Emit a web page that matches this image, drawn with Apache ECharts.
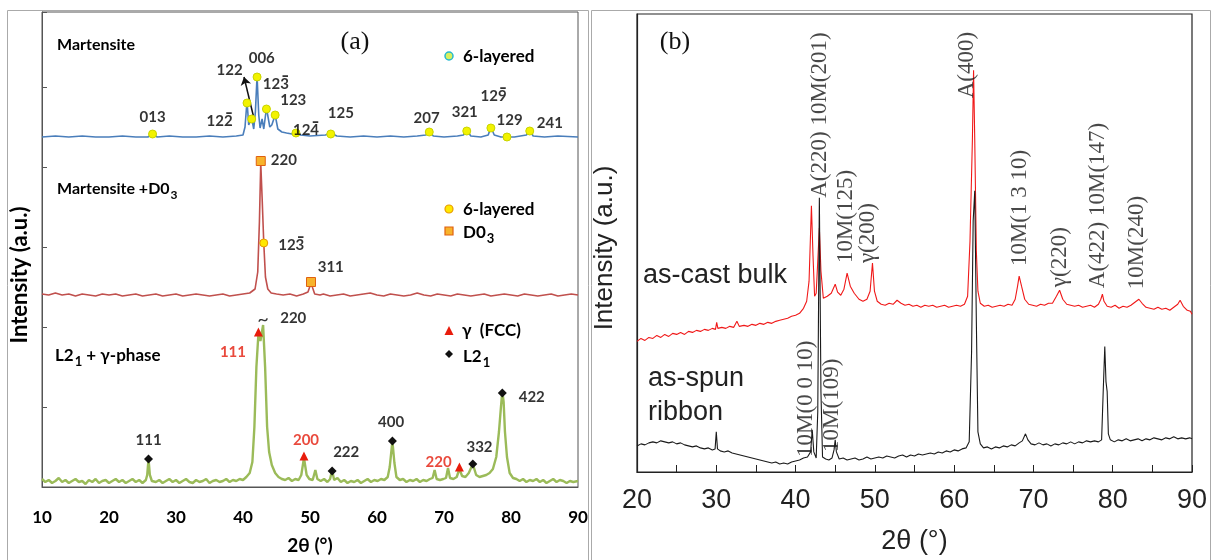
<!DOCTYPE html>
<html>
<head>
<meta charset="utf-8">
<script src="https://cdn.jsdelivr.net/npm/echarts@6/dist/echarts.min.js"></script>
<style>
  html, body { margin: 0; padding: 0; background: #fff; }
  #chart { width: 1217px; height: 560px; }
</style>
</head>
<body>
<div id="chart"></div>
<script>
// ---- panel (a): 2θ / intensity pairs (a.u., stacked offsets) ----
const martensite = [
  [10,350],[12,351],[14,350],[16,351],[18,350],[20,350],[22,351],[24,350],[25.8,350],[26.5,353],[27.2,350],
  [29,351],[31,350],[33,350],[35,351],[37,350],[39,351],[40.0,352],[40.3,360],[40.6,386],[40.85,362],
  [41.3,369],[41.6,358],[41.85,375],[42.1,411],[42.35,372],[42.55,359],[42.85,368],[43.1,358],[43.5,379],
  [44.0,360],[44.3,362],[44.8,372],[45.2,358],[45.8,355],[46.5,354],[47.3,353],[47.9,355],[48.6,352],
  [50,351],[52.3,352],[53.1,354],[54,351],[56,350],[58,351],[60,350],[62,351],[64,350],[66,351],
  [67.3,352],[67.8,356],[68.4,351],[70,350],[72,351],[72.9,352],[73.4,357],[74,351],[75.5,350],
  [76.6,352],[77.0,360],[77.5,352],[78.5,350],[79.4,350],[80.5,350],[82.3,352],[82.8,357],[83.3,351],
  [85,350],[87,351],[90,350]
];
const martensiteD03 = [
  [10,193],[11,192],[12,194],[13,192],[14,193],[15,191],[16,193],[17,192],[18,191],[19,193],[20,192],
  [21,193],[22,191],[23,192],[24,193],[25,191],[26,192],[27,193],[28,191],[29,192],[30,193],[31,191],
  [32,192],[33,193],[34,192],[35,191],[36,192],[37,193],[38,191],[39,192],[40,193],[41,194],[41.8,198],
  [42.2,215],[42.45,265],[42.65,324],[42.85,290],[43.1,244],[43.35,210],[43.7,198],[44.2,194],[45,193],
  [46,192],[47,193],[48,191],[49,193],[49.7,195],[49.95,200],[50.15,205],[50.4,199],[50.7,193],
  [51.5,192],[52,193],[53,191],[54,192],[55,193],[56,191],[57,192],[58,193],[59,194],[60,192],[61,191],
  [62,193],[63,192],[64,191],[65,192],[66,194],[67,192],[68,191],[69,193],[70,192],[71,191],[72,193],
  [73,192],[74,191],[75,192],[76,193],[77,191],[78,192],[79,193],[80,192],[81,191],[82,193],[83,192],
  [84,191],[85,192],[86,193],[87,191],[88,192],[89,193],[90,192]
];
const l21Gamma = [
  [10,8],[10.5,5],[11,7],[11.5,4],[12,6],[12.5,9],[13,5],[13.5,7],[14,4],[14.5,6],[15,8],[15.5,5],[16,6],
  [16.5,3],[17,7],[17.5,5],[18,8],[18.5,4],[19,6],[19.5,7],[20,4],[20.5,6],[21,8],[21.5,5],[22,7],[22.5,4],
  [23,6],[23.5,8],[24,5],[24.5,7],[25,4],[25.5,7],[25.7,12],[25.9,28],[26.1,12],[26.4,6],[27,5],[27.5,7],
  [28,4],[28.5,6],[29,8],[29.5,5],[30,7],[30.5,4],[31,6],[31.5,8],[32,5],[32.5,4],[33,7],[33.5,5],[34,6],
  [34.5,8],[35,4],[35.5,6],[36,7],[36.5,5],[37,6],[37.5,8],[38,5],[38.5,7],[39,6],[39.5,8],[40,7],[40.5,10],
  [41,14],[41.4,25],[41.7,60],[42.0,120],[42.3,153],[42.6,146],[43.0,162],[43.3,120],[43.6,60],[43.9,35],
  [44.3,22],[44.8,14],[45.3,10],[45.8,8],[46.3,7],[46.8,9],[47.3,6],[47.8,8],[48.3,7],[48.7,12],[49.1,29],
  [49.5,12],[49.9,8],[50.4,7],[50.8,17],[51.1,8],[51.6,6],[52.1,8],[52.6,5],[53.0,8],[53.3,17],[53.6,7],
  [54.1,9],[54.6,5],[55.1,7],[55.6,4],[56.1,6],[56.6,5],[57.1,7],[57.6,4],[58.1,6],[58.6,8],[59.1,5],
  [59.6,7],[60.1,6],[60.6,8],[61.1,7],[61.6,10],[61.9,20],[62.3,46],[62.6,24],[62.9,10],[63.4,7],[63.9,8],
  [64.4,5],[64.9,7],[65.4,6],[65.9,8],[66.4,5],[66.9,7],[67.4,6],[67.9,8],[68.3,9],[68.6,17],[68.9,8],
  [69.4,7],[69.9,8],[70.3,9],[70.6,19],[70.9,9],[71.4,8],[71.9,10],[72.3,18],[72.7,11],[73.2,10],[73.7,14],
  [74.3,23],[74.8,12],[75.3,10],[75.8,11],[76.3,12],[76.8,14],[77.3,18],[77.8,30],[78.2,55],[78.5,80],
  [78.7,96],[78.9,85],[79.1,55],[79.4,30],[79.8,14],[80.3,9],[80.8,8],[81.3,6],[81.8,8],[82.3,5],[82.8,7],
  [83.3,6],[83.8,8],[84.3,5],[84.8,7],[85.3,4],[85.8,6],[86.3,8],[86.8,5],[87.3,7],[87.8,6],[88.3,4],
  [88.8,6],[89.3,5],[90,6]
];
// peak markers (a)
const sixLayeredTop = [[26.5,353],[40.6,384],[41.3,368],[42.1,410],[43.5,378],[44.8,372],[47.9,354],
  [53.1,353],[67.8,355],[73.4,356],[77.0,359],[79.4,350],[82.8,356]];
const sixLayeredMid = [[43.1,244]];
const d03Peaks = [[42.65,326],[50.15,205]];
const gammaPeaks = [[42.3,155],[49.1,31],[72.3,20]];
const l21Peaks = [[25.9,28],[53.3,16],[62.3,46],[74.3,23],[78.7,94]];
// peak labels (a): [2θ, intensity, text]
const labelsA = [
  [26.5,370,'013'],[38.0,417,'122'],[42.8,429,'006'],
  [47.5,387,'123'],[54.6,374,'125'],[67.4,369,'207'],[73.1,375,'321'],
  [79.8,367,'129'],[85.8,364,'241'],
  [46.1,327,'220'],[53.1,220,'311'],
  [47.5,169,'220'],[25.9,47,'111'],[55.4,35,'222'],[62.1,65,'400'],[75.3,40,'332'],[83.1,90,'422']
];
// labels whose last digit carries a bar
const labelsABar = [
  [36.5,367,'122'],[44.9,404,'123'],[49.4,358,'124'],[77.4,392,'129'],[47.2,243,'123']
];
const labelsARed = [[38.5,135,'111'],[49.4,47,'200'],[69.2,25,'220']];
const breakMark = [[43.0,167,'~']];

// ---- panel (b) ----
const asCastBulk = [
  [20,130],[20.5,133],[21,131],[21.5,134],[22,133],[22.5,136],[23,134],[23.5,137],[24,135],[24.5,138],
  [25,137],[25.5,139],[26,137],[26.5,140],[27,139],[27.5,141],[28,140],[28.5,142],[29,141],[29.5,143],
  [29.9,142],[30.05,149],[30.2,143],[30.7,144],[31.2,143],[31.7,145],[32.2,144],[32.6,150],[32.9,145],
  [33.5,146],[34,145],[34.5,147],[35,146],[35.5,148],[36,147],[36.5,149],[37,148],[37.5,150],[38,151],
  [38.5,152],[39,153],[39.5,155],[40,156],[40.5,158],[41,163],[41.4,170],[41.7,190],[42.0,265],[42.2,215],
  [42.4,175],[42.6,178],[42.8,210],[43.0,243],[43.2,200],[43.5,173],[44,175],[44.5,178],[45.0,187],
  [45.3,179],[45.7,176],[46.1,182],[46.5,198],[46.9,185],[47.4,178],[48,172],[48.5,170],[49,172],
  [49.4,180],[49.7,208],[49.95,180],[50.3,170],[50.8,167],[51.3,166],[51.8,168],[52.3,167],[52.8,171],
  [53.3,168],[53.8,166],[54.3,167],[54.8,165],[55.3,166],[55.8,164],[56.3,166],[56.8,165],[57.3,166],
  [57.8,164],[58.3,165],[58.8,166],[59.3,164],[59.8,165],[60.3,166],[60.8,165],[61.3,167],[61.7,175],
  [62.0,230],[62.3,330],[62.45,400],[62.6,330],[62.8,220],[63.0,180],[63.3,168],[63.8,165],[64.3,166],
  [64.8,164],[65.3,165],[65.8,166],[66.3,165],[66.8,167],[67.3,166],[67.7,172],[68.0,185],[68.2,195],
  [68.5,185],[68.9,172],[69.4,167],[69.9,166],[70.4,165],[70.9,167],[71.4,166],[71.9,168],[72.4,168],
  [72.9,175],[73.3,181],[73.7,172],[74.2,167],[74.7,166],[75.2,165],[75.7,166],[76.2,164],[76.7,165],
  [77.2,166],[77.7,164],[78.2,167],[78.5,172],[78.7,177],[78.9,170],[79.3,165],[79.8,164],[80.3,166],
  [80.8,163],[81.3,165],[81.8,164],[82.3,166],[82.8,169],[83.3,172],[83.7,168],[84.2,164],[84.7,163],
  [85.2,162],[85.7,164],[86.2,162],[86.7,163],[87.2,161],[87.7,164],[88.2,167],[88.5,171],[88.9,165],
  [89.4,161],[89.8,160],[90,157]
];
const asSpunRibbon = [
  [20,26],[20.5,28],[21,27],[21.5,29],[22,30],[22.5,29],[23,31],[23.5,30],[24,29],[24.5,30],[25,28],
  [25.5,29],[26,27],[26.5,26],[27,25],[27.5,26],[28,24],[28.5,23],[29,24],[29.5,22],[29.85,23],[30.0,40],
  [30.15,23],[30.5,21],[31,20],[31.5,21],[32,19],[32.5,18],[33,17],[33.5,16],[34,15],[34.5,14],[35,13],
  [35.5,12],[36,11],[36.5,10],[37,9],[37.5,10],[38,8],[38.5,9],[39,8],[39.5,10],[40,11],[40.5,12],[41,14],
  [41.5,15],[41.9,20],[42.1,42],[42.3,20],[42.6,14],[42.8,60],[43.0,273],[43.2,80],[43.4,15],[43.8,13],
  [44.2,12],[44.6,14],[44.85,22],[45.0,32],[45.15,20],[45.5,13],[46,14],[46.5,12],[47,13],[47.5,14],
  [48,12],[48.5,13],[49,15],[49.5,13],[50,14],[50.5,15],[51,14],[51.5,16],[52,15],[52.5,14],[53,16],
  [53.5,17],[54,15],[54.5,17],[55,16],[55.5,18],[56,17],[56.5,18],[57,19],[57.5,18],[58,20],[58.5,19],
  [59,21],[59.5,20],[60,22],[60.5,21],[61,23],[61.5,24],[61.9,30],[62.2,120],[62.4,250],[62.6,280],
  [62.8,150],[63.0,40],[63.3,28],[63.7,24],[64.2,25],[64.7,23],[65.2,25],[65.7,24],[66.2,26],[66.7,25],
  [67.2,27],[67.7,26],[68.2,29],[68.6,31],[69.0,38],[69.3,32],[69.7,28],[70.2,27],[70.7,29],[71.2,27],
  [71.7,28],[72.2,26],[72.7,28],[73.2,27],[73.7,29],[74.2,28],[74.7,30],[75.2,28],[75.7,30],[76.2,29],
  [76.7,31],[77.2,30],[77.7,31],[78.2,30],[78.6,32],[78.8,80],[79.0,125],[79.15,90],[79.3,80],[79.45,38],
  [79.7,32],[80.2,30],[80.7,32],[81.2,31],[81.7,33],[82.2,31],[82.7,32],[83.2,33],[83.7,31],[84.2,33],
  [84.7,32],[85.2,34],[85.7,33],[86.2,32],[86.7,34],[87.2,33],[87.7,35],[88.2,33],[88.7,34],[89.2,33],
  [89.7,34],[90,33]
];
// rotated peak labels (b): [2θ, intensity at text start, text]
const labelsB = [
  [43.1,273,'A(220) 10M(201)'],[61.6,372,'A(400)'],[46.35,208,'10M(125)'],[49.1,208,'\u03b3(200)'],
  [68.3,205,'10M(1 3 10)'],[73.3,184,'\u03b3(220)'],[78.1,183,'A(422) 10M(147)'],[83.05,182,'10M(240)'],
  [41.3,15,'10M(0 0 10)'],[44.6,20,'10M(109)']
];

const FA = 'Lato';
const boldA = { fontFamily: FA, fontWeight: 'bold', fontSize: 16, color: '#000', fill: '#000' };

function markerSeries(data, symbol, size, fill, stroke, bw) {
  return {
    type: 'scatter', xAxisIndex: 0, yAxisIndex: 0, data, symbol, symbolSize: size, z: 5,
    itemStyle: { color: fill, borderColor: stroke, borderWidth: bw, opacity: 1 }, silent: true
  };
}
function labelSeries(data, color, xi, yi, extra) {
  return {
    type: 'scatter', xAxisIndex: xi, yAxisIndex: yi, data, symbolSize: 0, silent: true, z: 6,
    label: Object.assign({ show: true, position: 'inside', formatter: p => p.data[2],
      fontFamily: FA, fontWeight: 'bold', fontSize: 15, color }, extra || {})
  };
}
// rich text for bold labels with subscripts
function subText(parts, size) {
  const rich = {
    n: { fontFamily: FA, fontWeight: 'bold', fontSize: size, fill: '#000', lineHeight: size + 2, verticalAlign: 'top' },
    s: { fontFamily: FA, fontWeight: 'bold', fontSize: size - 4, fill: '#000', lineHeight: size - 3, padding: [8, 0, 0, 1], verticalAlign: 'top' }
  };
  return { text: parts, rich };
}

const chart = echarts.init(document.getElementById('chart'), null, { renderer: 'canvas' });
chart.setOption({
  animation: false,
  backgroundColor: '#fff',
  grid: [
    { left: 42, top: 12, width: 536, height: 491, show: true, borderColor: '#555', borderWidth: 1 },
    { left: 637, top: 14, width: 555, height: 466, show: true, borderColor: '#222', borderWidth: 1.2 }
  ],
  xAxis: [
    {
      gridIndex: 0, type: 'value', min: 10, max: 90, interval: 10,
      axisLine: { lineStyle: { color: '#555' } }, axisTick: { show: false }, splitLine: { show: false },
      axisLabel: Object.assign({}, boldA, { margin: 22, fontSize: 17 }),
      name: '2θ (°)', nameLocation: 'middle', nameGap: 49,
      nameTextStyle: Object.assign({}, boldA, { fontSize: 19 })
    },
    {
      gridIndex: 1, type: 'value', min: 20, max: 90, interval: 10,
      axisLine: { lineStyle: { color: '#222', width: 1.2 } },
      axisTick: { inside: true, length: 7, lineStyle: { color: '#222' } },
      minorTick: { show: true, splitNumber: 2, length: 7, lineStyle: { color: '#222' } },
      splitLine: { show: false },
      axisLabel: { margin: 15, fontFamily: 'Liberation Sans', fontSize: 27, color: '#222' },
      name: '2θ (°)', nameLocation: 'middle', nameGap: 56,
      nameTextStyle: { fontFamily: 'Liberation Sans', fontSize: 27, color: '#222' }
    }
  ],
  yAxis: [
    {
      gridIndex: 0, type: 'value', min: 0, max: 475, interval: 80,
      axisLine: { show: true, lineStyle: { color: '#555' } },
      axisTick: { show: true, inside: true, length: 5, lineStyle: { color: '#555' } },
      axisLabel: { show: false }, splitLine: { show: false }
    },
    {
      gridIndex: 1, type: 'value', min: 0, max: 456,
      axisLine: { show: true, lineStyle: { color: '#222', width: 1.2 } },
      axisTick: { show: false }, axisLabel: { show: false }, splitLine: { show: false }
    }
  ],
  series: [
    { type: 'line', xAxisIndex: 0, yAxisIndex: 0, data: martensite, symbol: 'none', silent: true,
      lineStyle: { color: '#4a7ebb', width: 1.6 },
      markLine: { silent: true, symbol: ['none', 'arrow'], symbolSize: 8, label: { show: false },
        lineStyle: { color: '#111', width: 1.5, type: 'solid' },
        data: [[{ coord: [41.55, 371] }, { coord: [40.15, 410] }]] } },
    { type: 'line', xAxisIndex: 0, yAxisIndex: 0, data: martensiteD03, symbol: 'none', silent: true,
      lineStyle: { color: '#c0504d', width: 1.6 } },
    { type: 'line', xAxisIndex: 0, yAxisIndex: 0, data: l21Gamma, symbol: 'none', silent: true,
      lineStyle: { color: '#9bbb59', width: 2.4 } },
    markerSeries(sixLayeredTop, 'circle', 8, '#f2f200', '#c9d400', 1),
    markerSeries(sixLayeredMid, 'circle', 8, '#ffe800', '#e89a00', 1),
    markerSeries(d03Peaks, 'rect', 9, '#f7b32b', '#e06010', 1),
    markerSeries(gammaPeaks, 'triangle', 9, '#e81c0c', '#e81c0c', 0),
    markerSeries(l21Peaks, 'diamond', 9, '#111', '#111', 0),
    labelSeries(labelsA, '#000', 0, 0),
    // barred labels: a short bar over the last digit, drawn as a right-aligned dash on a thin upper line
    labelSeries(labelsABar, '#000', 0, 0, {
      formatter: p => '{b|\u2013}\n{t|' + p.data[2] + '}',
      rich: {
        b: { fontFamily: 'DejaVu Sans', fontWeight: 'bold', fontSize: 14, color: '#000', lineHeight: 3, width: 26, align: 'right' },
        t: { fontFamily: FA, fontWeight: 'bold', fontSize: 15, color: '#000', lineHeight: 14, width: 26, align: 'center' }
      }
    }),
    labelSeries(labelsARed, '#e31b0b', 0, 0),
    labelSeries(breakMark, '#000', 0, 0, { fontSize: 20, fontWeight: 'normal' }),

    { type: 'line', xAxisIndex: 1, yAxisIndex: 1, data: asCastBulk, symbol: 'none', silent: true,
      lineStyle: { color: '#f01818', width: 1.1 } },
    { type: 'line', xAxisIndex: 1, yAxisIndex: 1, data: asSpunRibbon, symbol: 'none', silent: true,
      lineStyle: { color: '#1a1a1a', width: 1.1 } },
    labelSeries(labelsB, '#1a1a1a', 1, 1, { fontFamily: 'Liberation Serif', fontWeight: 'normal', fontSize: 23,
      rotate: 90, align: 'left', verticalAlign: 'middle' })
  ],
  graphic: [
    { type: 'rect', shape: { x: 7.5, y: 10.5, width: 581, height: 560 }, style: { fill: 'none', stroke: '#aaa', lineWidth: 1 }, z: -1 },
    { type: 'rect', shape: { x: 591.5, y: 10.5, width: 619, height: 560 }, style: { fill: 'none', stroke: '#aaa', lineWidth: 1 }, z: -1 },
    // panel (a) texts
    { type: 'text', x: 20, y: 275, rotation: Math.PI / 2,
      style: Object.assign({ text: 'Intensity (a.u.)', align: 'center', verticalAlign: 'middle' }, boldA, { fontSize: 22 }) },
    { type: 'text', x: 57, y: 45, style: Object.assign({ text: 'Martensite', verticalAlign: 'middle' }, boldA) },
    { type: 'text', x: 57, y: 190, style: Object.assign(subText('{n|Martensite +D0}{s|3}', 16), { verticalAlign: 'middle' }) },
    { type: 'text', x: 55, y: 357, style: Object.assign(subText('{n|L2}{s|1}{n| + \u03b3-phase}', 17), { verticalAlign: 'middle' }) },
    { type: 'text', x: 355, y: 42, style: { text: '(a)', align: 'center', verticalAlign: 'middle', fontFamily: 'Liberation Serif', fontSize: 26, fill: '#111' } },
    // legends (a)
    { type: 'circle', shape: { cx: 449, cy: 56, r: 4 }, style: { fill: '#d8f060', stroke: '#25b8d0', lineWidth: 1.5 } },
    { type: 'text', x: 463, y: 57, style: Object.assign({ text: '6-layered', verticalAlign: 'middle' }, boldA, { fontSize: 17 }) },
    { type: 'circle', shape: { cx: 449, cy: 209, r: 4 }, style: { fill: '#ffe800', stroke: '#e89a00', lineWidth: 1.2 } },
    { type: 'text', x: 463, y: 210, style: Object.assign({ text: '6-layered', verticalAlign: 'middle' }, boldA, { fontSize: 17 }) },
    { type: 'rect', shape: { x: 445, y: 227, width: 8, height: 8 }, style: { fill: '#f7b32b', stroke: '#e06010', lineWidth: 1.2 } },
    { type: 'text', x: 463, y: 234, style: Object.assign(subText('{n|D0}{s|3}', 17), { verticalAlign: 'middle' }) },
    { type: 'polygon', shape: { points: [[449, 326], [453.5, 335], [444.5, 335]] }, style: { fill: '#e81c0c' } },
    { type: 'text', x: 462, y: 331, style: Object.assign({ text: '\u03b3  (FCC)', verticalAlign: 'middle' }, boldA, { fontSize: 17 }) },
    { type: 'polygon', shape: { points: [[449, 350], [453, 354], [449, 358], [445, 354]] }, style: { fill: '#111' } },
    { type: 'text', x: 463, y: 358, style: Object.assign(subText('{n|L2}{s|1}', 17), { verticalAlign: 'middle' }) },
    // panel (b) texts
    { type: 'text', x: 605, y: 248, rotation: Math.PI / 2,
      style: { text: 'Intensity (a.u.)', align: 'center', verticalAlign: 'middle', fontFamily: 'Liberation Sans', fontSize: 26, fill: '#222' } },
    { type: 'text', x: 675, y: 42, style: { text: '(b)', align: 'center', verticalAlign: 'middle', fontFamily: 'Liberation Serif', fontSize: 26, fill: '#111' } },
    { type: 'text', x: 643, y: 276, style: { text: 'as-cast bulk', verticalAlign: 'middle', fontFamily: 'Liberation Sans', fontSize: 27, fill: '#222' } },
    { type: 'text', x: 648, y: 379, style: { text: 'as-spun', verticalAlign: 'middle', fontFamily: 'Liberation Sans', fontSize: 27, fill: '#222' } },
    { type: 'text', x: 648, y: 413, style: { text: 'ribbon', verticalAlign: 'middle', fontFamily: 'Liberation Sans', fontSize: 27, fill: '#222' } }
  ]
});
</script>
</body>
</html>
